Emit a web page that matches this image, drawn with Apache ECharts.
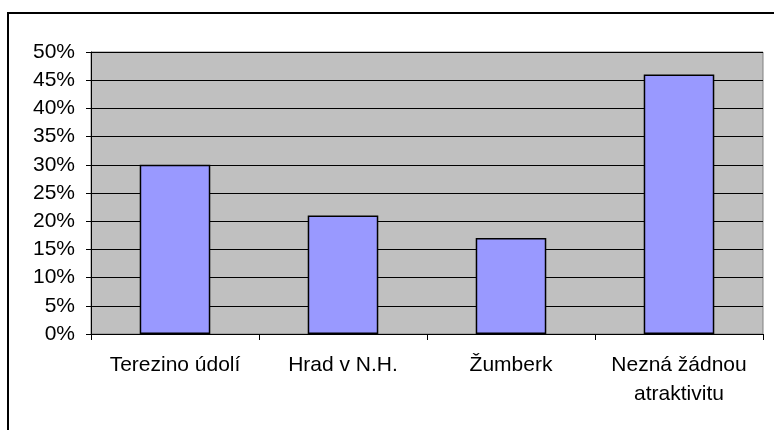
<!DOCTYPE html>
<html>
<head>
<meta charset="utf-8">
<title>Atraktivita</title>
<script src="https://cdn.jsdelivr.net/npm/echarts@6/dist/echarts.min.js"></script>
<style>
  html, body { margin: 0; padding: 0; background: #fff; }
  #chart { width: 774px; height: 430px; }
</style>
</head>
<body>
<div id="chart"></div>
<script type="text/javascript">
  // data
  var categories = ['Terezino údolí', 'Hrad v N.H.', 'Žumberk', 'Nezná žádnou\natraktivitu'];
  var values = [30, 21, 17, 46];
  var yTicks = [0, 5, 10, 15, 20, 25, 30, 35, 40, 45, 50];

  var myChart = echarts.init(document.getElementById('chart'), null, { renderer: 'canvas' });
  var font = 'Liberation Sans, Arial, sans-serif';

  var option = {
    animation: false,
    backgroundColor: '#fff',
    grid: { left: 91, right: 11, top: 52, bottom: 96, show: true, backgroundColor: '#c0c0c0', borderColor: '#808080', borderWidth: 1 },
    graphic: [{
      type: 'rect',
      shape: { x: 8, y: 13, width: 900, height: 600 },
      style: { fill: 'none', stroke: '#000', lineWidth: 2 },
      silent: true
    }],
    xAxis: {
      type: 'category',
      data: categories,
      axisLine: { lineStyle: { color: '#000', width: 1 } },
      axisTick: { show: true, interval: 0, length: 6, lineStyle: { color: '#000' } },
      axisLabel: { interval: 0, hideOverlap: false, color: '#000', fontSize: 21, fontFamily: font, margin: 17, lineHeight: 29 }
    },
    yAxis: {
      type: 'value',
      min: yTicks[0],
      max: yTicks[yTicks.length - 1],
      interval: 5,
      axisLine: { show: true, lineStyle: { color: '#000', width: 1 } },
      axisTick: { show: true, length: 5, lineStyle: { color: '#000' } },
      axisLabel: { color: '#000', fontSize: 21, fontFamily: font, margin: 16, formatter: '{value}%' },
      splitLine: { show: true, lineStyle: { color: '#000', width: 1 } }
    },
    series: [{
      type: 'bar',
      data: values,
      barWidth: '42%',
      itemStyle: { color: '#9999ff', borderColor: '#000', borderWidth: 1.5 }
    }]
  };
  myChart.setOption(option);
</script>
</body>
</html>
